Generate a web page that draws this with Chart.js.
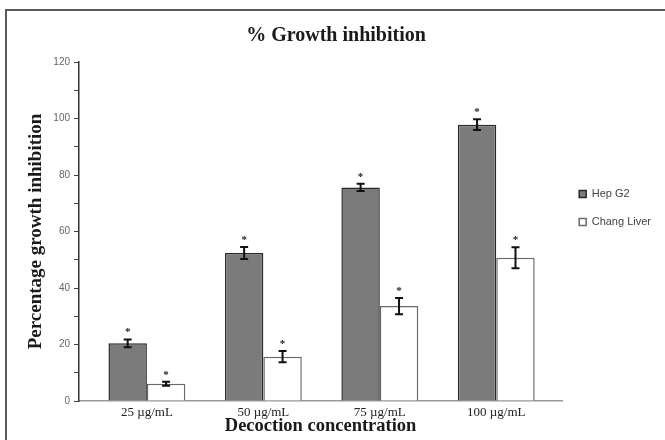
<!DOCTYPE html>
<html>
<head>
<meta charset="utf-8">
<script src="https://cdn.jsdelivr.net/npm/chart.js@4"></script>
<style>
  html,body{margin:0;padding:0;background:#fff;overflow:hidden;}
  #frame{position:absolute;left:5px;top:9px;width:700px;height:500px;border:2px solid #5a5a5a;box-sizing:border-box;}
  #wrap{position:absolute;left:0;top:0;width:665px;height:440px;}
</style>
</head>
<body>
<div id="frame"></div>
<div id="wrap"><canvas id="c" width="665" height="440"></canvas></div>
<script>
const categories = ["25 µg/mL", "50 µg/mL", "75 µg/mL", "100 µg/mL"];
const hepG2 = [20.4, 52.4, 75.6, 97.8];
const hepG2Err = [1.4, 2.1, 1.3, 1.9];
const chang = [6.1, 15.7, 33.6, 50.7];
const changErr = [0.7, 2.0, 2.9, 3.7];
const yTicks = [0, 20, 40, 60, 80, 100, 120];
const seriesNames = ["Hep G2", "Chang Liver"];

const errors = [hepG2Err, changErr];

const errorBarPlugin = {
  id: 'errorBars',
  afterDatasetsDraw(chart) {
    const ctx = chart.ctx;
    const y = chart.scales.y;
    chart.data.datasets.forEach((ds, i) => {
      const meta = chart.getDatasetMeta(i);
      meta.data.forEach((bar, j) => {
        const v = ds.data[j].y;
        const e = errors[i][j];
        const x = bar.x;
        const yt = y.getPixelForValue(v + e);
        const yb = y.getPixelForValue(v - e);
        ctx.save();
        ctx.strokeStyle = '#111';
        ctx.lineWidth = 2;
        ctx.beginPath();
        ctx.moveTo(x, yt); ctx.lineTo(x, yb);
        ctx.moveTo(x - 4, yt); ctx.lineTo(x + 4, yt);
        ctx.moveTo(x - 4, yb); ctx.lineTo(x + 4, yb);
        ctx.stroke();
        ctx.fillStyle = '#222';
        ctx.font = 'bold 11px "Liberation Serif"';
        ctx.textAlign = 'center';
        ctx.textBaseline = 'alphabetic';
        ctx.fillText('*', x, yt - 4);
        ctx.restore();
      });
    });
  }
};

const legendShift = {
  id: 'legendShift',
  afterLayout(chart) {
    if (chart.legend) {
      chart.legend.top -= 12;
      chart.legend.bottom -= 12;
    }
  }
};

new Chart(document.getElementById('c'), {
  type: 'bar',
  data: {
    datasets: [
      {
        label: seriesNames[0],
        data: hepG2.map((v, i) => ({x: i + 1, y: v})),
        backgroundColor: '#7b7b7b',
        borderColor: '#2a2a2a',
        borderWidth: 1.5,
        borderSkipped: 'bottom',
        barPercentage: 1,
        categoryPercentage: 0.66
      },
      {
        label: seriesNames[1],
        data: chang.map((v, i) => ({x: i + 1, y: v})),
        backgroundColor: '#ffffff',
        borderColor: '#6a6a6a',
        borderWidth: 1.5,
        borderSkipped: 'bottom',
        barPercentage: 1,
        categoryPercentage: 0.66
      }
    ]
  },
  options: {
    responsive: false,
    animation: false,
    layout: {padding: {left: 11, right: 4, top: 0, bottom: 0}},
    plugins: {
      tooltip: {enabled: false},
      title: {
        display: true,
        text: '% Growth inhibition',
        color: '#1a1a1a',
        font: {family: '"Liberation Serif"', size: 20, weight: 'bold'},
        padding: {top: 24, bottom: 14}
      },
      legend: {
        position: 'right',
        align: 'center',
        labels: {
          boxWidth: 7,
          boxHeight: 7,
          padding: 17,
          color: '#444',
          font: {family: '"Liberation Sans"', size: 11}
        }
      }
    },
    scales: {
      x: {
        type: 'linear',
        offset: false,
        min: 0.417,
        max: 4.566,
        afterBuildTicks(scale) {
          scale.ticks = categories.map((c, i) => ({value: i + 1}));
        },
        afterFit(scale) { scale.height = 39; },
        grid: {display: false, drawTicks: false, offset: false},
        border: {display: true, color: '#999', width: 1.5},
        ticks: {
          autoSkip: false,
          maxRotation: 0,
          padding: 4,
          color: '#222',
          font: {family: '"Liberation Serif"', size: 13},
          callback: (v) => categories[Math.round(v) - 1] || ''
        },
        title: {
          display: true,
          text: 'Decoction concentration',
          color: '#1a1a1a',
          font: {family: '"Liberation Serif"', size: 18.5, weight: 'bold'},
          padding: {top: 0, bottom: 3}
        }
      },
      y: {
        min: 0,
        max: 120,
        afterFit(scale) { scale.width = 68; },
        afterBuildTicks(scale) {
          const t = [];
          for (let v = 0; v <= 120; v += 10) t.push({value: v});
          scale.ticks = t;
        },
        grid: {display: true, drawOnChartArea: false, drawTicks: true, tickLength: 5, color: '#444'},
        border: {display: true, color: '#333', width: 1.5},
        ticks: {
          padding: 4,
          color: '#666',
          font: {family: '"Liberation Sans"', size: 10},
          callback: (v) => yTicks.includes(v) ? String(v) : ''
        },
        title: {
          display: true,
          text: 'Percentage growth inhibition',
          color: '#1a1a1a',
          font: {family: '"Liberation Serif"', size: 19, weight: 'bold'},
          padding: {top: 14, bottom: 0}
        }
      }
    }
  },
  plugins: [errorBarPlugin, legendShift]
});
</script>
</body>
</html>
